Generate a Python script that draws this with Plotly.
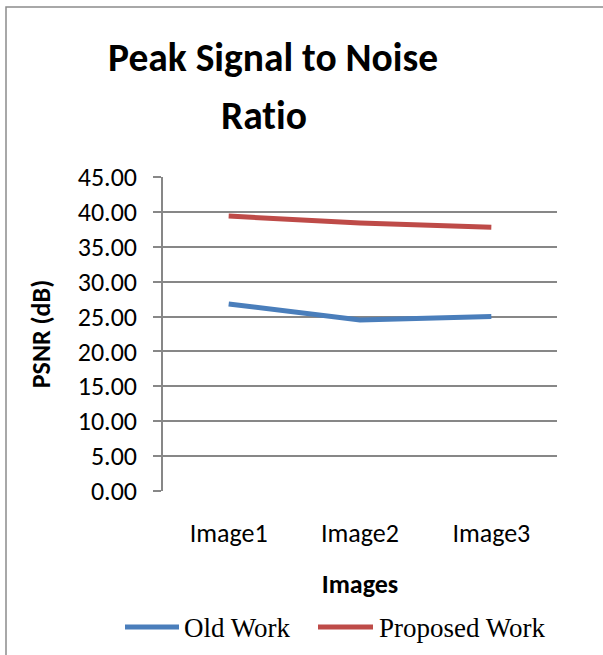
import plotly.graph_objects as go

categories = ["Image1", "Image2", "Image3"]
old_work = [26.8, 24.5, 25.0]
proposed_work = [39.4, 38.4, 37.8]
y_ticks = [0, 5, 10, 15, 20, 25, 30, 35, 40, 45]
series_names = ["Old Work", "Proposed Work"]
series_colors = ["#4A7EBB", "#BE4B48"]
title_lines = ["Peak Signal to Noise", "Rat\u200cio"]

W, H = 603, 655
L, R, T, B = 163, 46, 177, 164
pw, ph = W - L - R, H - T - B

def px(x):
    return (x - L) / pw

def py(y):
    return (H - B - y) / ph

SANS = "Carlito, Calibri, Open Sans, sans-serif"
SERIF = "Liberation Serif, Times New Roman, serif"

fig = go.Figure()
for name, vals, col in zip(series_names, [old_work, proposed_work], series_colors):
    fig.add_trace(go.Scatter(x=categories, y=vals, mode="lines", name=name,
                             line=dict(color=col, width=5), showlegend=False))

shapes = [dict(type="rect", xref="paper", yref="paper", x0=px(6), x1=px(640),
               y0=py(700), y1=py(7), line=dict(color="#8c8c8c", width=1.5),
               fillcolor="rgba(0,0,0,0)", layer="below")]
annotations = []
# custom legend (line sample length matches reference)
leg_x = [(125, 179, 182), (318, 373, 377)]
for (x0, x1, xt), name, col in zip(leg_x, series_names, series_colors):
    shapes.append(dict(type="line", xref="paper", yref="paper", x0=px(x0), x1=px(x1),
                       y0=py(627), y1=py(627), line=dict(color=col, width=5)))
    annotations.append(dict(text=name, xref="paper", yref="paper", x=px(xt), y=py(628),
                            xanchor="left", yanchor="middle", showarrow=False,
                            font=dict(family=SERIF, size=27, color="black")))
for txt, cx, cy in zip(title_lines, [273, 264], [57, 115]):
    annotations.append(dict(text="<b>%s</b>" % txt, xref="paper", yref="paper",
                            x=px(cx), y=py(cy), xanchor="center", yanchor="middle",
                            showarrow=False,
                            font=dict(family=SANS, size=39.5, color="black")))

fig.update_layout(
    width=W, height=H,
    margin=dict(l=L, r=R, t=T, b=B, autoexpand=False),
    paper_bgcolor="white", plot_bgcolor="white",
    showlegend=False,
    xaxis=dict(type="category", range=[-0.5, 2.5], showgrid=False, zeroline=False,
               showline=False, ticks="outside", ticklen=19, tickcolor="rgba(0,0,0,0)",
               tickfont=dict(family=SANS, size=26, color="black"),
               title=dict(text="<b>Images</b>", standoff=26,
                          font=dict(family=SANS, size=26, color="black"))),
    yaxis=dict(range=[0, 45], tickvals=y_ticks, tickformat=".2f",
               showgrid=True, gridcolor="#878787", gridwidth=1.5,
               showline=True, linecolor="#878787", linewidth=1.5,
               ticks="outside", ticklen=8, tickcolor="#878787", tickwidth=1.5,
               zeroline=False, ticklabelstandoff=11,
               tickfont=dict(family=SANS, size=26, color="black"),
               title=dict(text="<b>PSNR (dB)</b>", standoff=20,
                          font=dict(family=SANS, size=26, color="black"))),
    shapes=shapes,
    annotations=annotations,
)
fig.write_html("out.html", config={"displayModeBar": False},
               post_script="document.body.style.margin='0';")
